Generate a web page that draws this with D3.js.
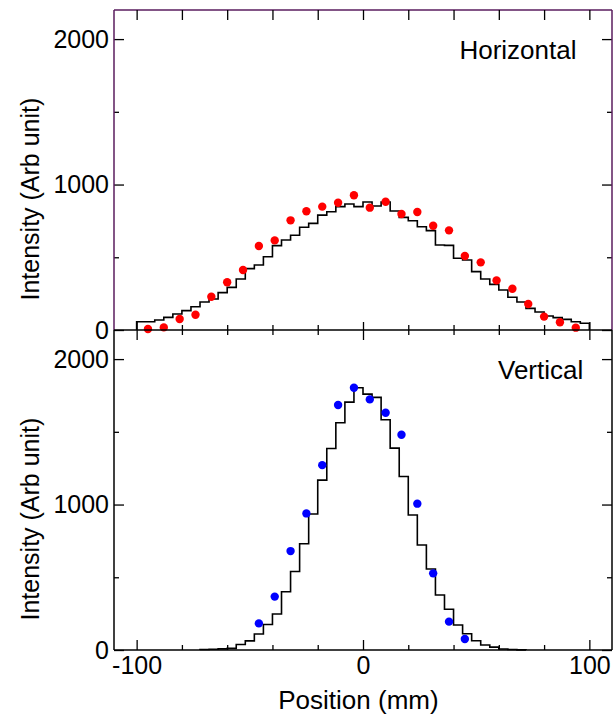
<!DOCTYPE html>
<html><head><meta charset="utf-8">
<script src="https://cdn.jsdelivr.net/npm/d3@7/dist/d3.min.js"></script>
<style>
html,body{margin:0;padding:0;background:#fff;}
text{font-family:"Liberation Sans",Arial,sans-serif;fill:#000;}
</style></head>
<body><svg id="c" width="616" height="719"></svg>
<script>
// ---- data ----
const topBins = [-100,-96,-92,-88,-84,-80,-76,-72,-68,-64,-60,-56,-52,-48,-44,-40,-36,-32,-28,-24,-20,-16,-12,-8,-4,
                 0,4,8,12,16,20,24,28,32,36,40,44,48,52,56,60,64,68,72,76,80,84,88,92,96];
const topCounts = [57,57,69,87,110,133,160,192,213,257,293,351,422,447,504,580,619,651,706,733,790,813,848,866,848,
                   880,852,880,818,774,751,710,683,584,582,493,481,401,351,314,275,225,192,149,124,96,85,73,57,46];
const bottomBins = [-72,-68,-64,-60,-56,-52,-48,-44,-40,-36,-32,-28,-24,-20,-16,-12,-8,-4,
                    0,4,8,12,16,20,24,28,32,36,40,44,48,52,56,60,64,68];
const bottomCounts = [3,5,8,11,38,63,110,175,247,400,540,730,935,1168,1385,1562,1704,1803,
                      1759,1737,1583,1388,1193,928,722,557,378,280,172,112,64,34,20,7,3,1];
const hPos = [-95,-88,-81,-74,-67,-60,-53,-46,-39,-32,-25,-18,-11,-4,3,10,17,24,31,38,45,52,59,66,73,80,87,94];
const hVal = [7,18,76,105,229,328,412,577,616,754,816,848,875,926,841,882,797,811,717,685,509,465,341,284,179,92,53,16];
const vPos = [-46,-39,-32,-25,-18,-11,-4,3,10,17,24,31,38,45];
const vVal = [183,367,680,939,1271,1684,1803,1723,1631,1480,1006,527,195,76];
const xMajor = [-100,0,100];
const xMinor = [-80,-60,-40,-20,20,40,60,80];
const yMajor = [0,1000,2000];
const yMinor = [500,1500];

// ---- layout ----
const L=114, R=612, T1=10, B1=330, T2=330, B2=650;
const x = d3.scaleLinear().domain([-110,110]).range([L,R]);
const yTop = d3.scaleLinear().domain([0,2200]).range([B1,T1]);
const yBot = d3.scaleLinear().domain([0,2200]).range([B2,T2]);
const svg = d3.select("#c");
const FS = 25;

function stepPath(bins, counts, y){
  const w = bins[1]-bins[0];
  const pts = [[bins[0],0]];
  bins.forEach((b,i)=>pts.push([b,counts[i]]));
  pts.push([bins[bins.length-1]+w, counts[counts.length-1]]);
  pts.push([bins[bins.length-1]+w, 0]);
  return d3.line().x(d=>x(d[0])).y(d=>y(d[1])).curve(d3.curveStepAfter)(pts);
}

function panel(y, top, bottom, bins, counts, pos, vals, color, label, labelX, frameColor){
  svg.append("path").attr("d", stepPath(bins,counts,y))
    .attr("fill","none").attr("stroke","#000").attr("stroke-width",1.6);
  svg.append("g").selectAll("circle").data(pos).join("circle")
    .attr("cx",d=>x(d)).attr("cy",(d,i)=>y(vals[i])).attr("r",4.2).attr("fill",color);
  const gl = svg.append("g").attr("transform",`translate(${L},0)`)
    .call(d3.axisLeft(y).tickValues(yMajor).tickSize(-10).tickPadding(5).tickFormat(d=>String(d)));
  gl.select(".domain").remove();
  gl.selectAll("text").attr("font-size",FS).attr("font-family","Liberation Sans, Arial, sans-serif");
  const glm = svg.append("g").attr("transform",`translate(${L},0)`)
    .call(d3.axisLeft(y).tickValues(yMinor).tickSize(-5).tickFormat(""));
  glm.select(".domain").remove();
  const gr = svg.append("g").attr("transform",`translate(${R},0)`)
    .call(d3.axisRight(y).tickValues(yMajor).tickSize(-10).tickFormat(""));
  gr.select(".domain").remove();
  const grm = svg.append("g").attr("transform",`translate(${R},0)`)
    .call(d3.axisRight(y).tickValues(yMinor).tickSize(-5).tickFormat(""));
  grm.select(".domain").remove();
  svg.append("line").attr("x1",L).attr("x2",L).attr("y1",top).attr("y2",bottom).attr("stroke",frameColor).attr("stroke-width",1.5);
  svg.append("line").attr("x1",R).attr("x2",R).attr("y1",top).attr("y2",bottom).attr("stroke",frameColor).attr("stroke-width",1.5);
  svg.append("text").attr("x",x(labelX)).attr("y",y(1863)).attr("text-anchor","end")
    .attr("font-size",FS+1).text(label);
  svg.append("text").attr("text-anchor","middle").attr("font-size",FS)
    .attr("transform",`translate(39,${y(900)}) rotate(-90)`).text("Intensity (Arb unit)");
}

panel(yTop, T1, B1, topBins, topCounts, hPos, hVal, "#ff0000", "Horizontal", 94.3, "#5a1c5e");
panel(yBot, T2, B2, bottomBins, bottomCounts, vPos, vVal, "#0000ff", "Vertical", 97.3, "#000");

svg.append("line").attr("x1",L).attr("x2",R).attr("y1",T1).attr("y2",T1).attr("stroke","#5a1c5e").attr("stroke-width",1.5);
const gt = svg.append("g").attr("transform",`translate(0,${T1})`)
  .call(d3.axisBottom(x).tickValues(xMajor.concat(xMinor)).tickSize(10).tickFormat(""));
gt.select(".domain").remove();

svg.append("line").attr("x1",L).attr("x2",R).attr("y1",B1).attr("y2",B1).attr("stroke","#000").attr("stroke-width",1.6);
[[xMajor,-8],[xMajor,10],[xMinor,-5],[xMinor,5]].forEach(([vals,s])=>{
  const g = svg.append("g").attr("transform",`translate(0,${B1})`)
    .call(d3.axisBottom(x).tickValues(vals).tickSize(s).tickFormat(""));
  g.select(".domain").remove();
});

svg.append("line").attr("x1",L).attr("x2",R).attr("y1",B2).attr("y2",B2).attr("stroke","#000").attr("stroke-width",1.6);
const gb = svg.append("g").attr("transform",`translate(0,${B2})`)
  .call(d3.axisBottom(x).tickValues(xMajor).tickSize(-10).tickPadding(6).tickFormat(d=>String(d)));
gb.select(".domain").remove();
gb.selectAll("text").attr("font-size",FS).attr("font-family","Liberation Sans, Arial, sans-serif");
const gbm = svg.append("g").attr("transform",`translate(0,${B2})`)
  .call(d3.axisBottom(x).tickValues(xMinor).tickSize(-5).tickFormat(""));
gbm.select(".domain").remove();
svg.selectAll(".tick line").attr("stroke","#000").attr("stroke-width",1.3);

svg.append("text").attr("x",x(-2)).attr("y",709).attr("text-anchor","middle")
  .attr("font-size",FS+1).text("Position (mm)");
</script></body></html>
